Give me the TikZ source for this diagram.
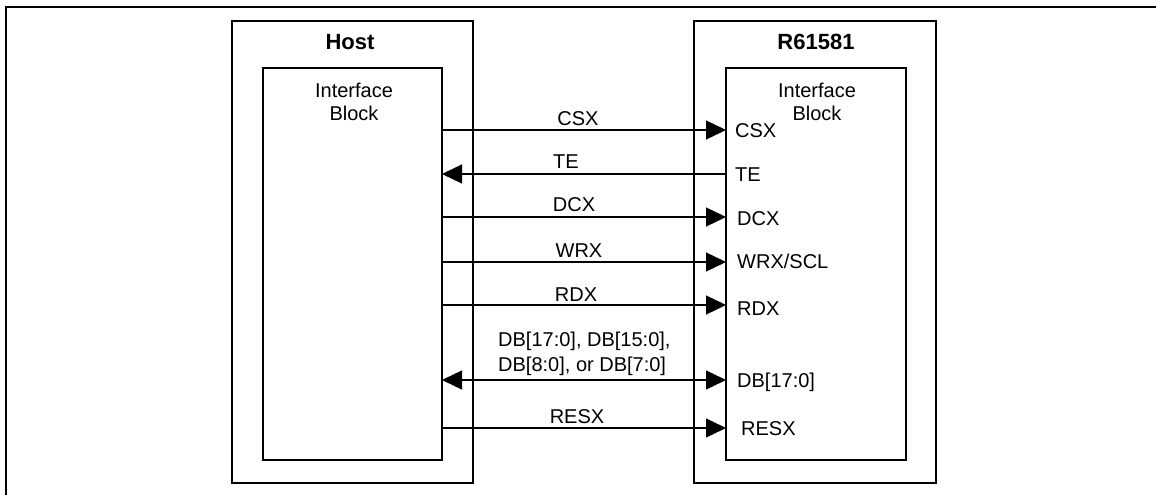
\documentclass[tikz,border=0pt]{standalone}
\usepackage{fontspec}
\setmainfont{Liberation Sans}
\usetikzlibrary{arrows.meta}
\begin{document}
\begin{tikzpicture}[x=1pt,y=-1pt,
  box/.style={draw=black, line width=1.4pt, inner sep=0pt, rectangle},
  sig/.style={line width=1.3pt, draw=black},
  tip/.style={-{Triangle[length=20pt,width=19pt]}},
  tiptwo/.style={{Triangle[length=20pt,width=19pt]}-{Triangle[length=20pt,width=19pt]}},
  lbl/.style={font=\fontsize{20}{23}\selectfont, inner sep=0pt, anchor=base},
  pinlbl/.style={font=\fontsize{20}{23}\selectfont, inner sep=0pt, anchor=base west},
  blocklbl/.style={font=\fontsize{20}{23}\selectfont, inner sep=0pt, anchor=north, align=center},
  titlelbl/.style={font=\fontsize{22}{26}\selectfont\bfseries, inner sep=0pt, anchor=base}]
\useasboundingbox (0,0) rectangle (1156,495);
% page frame
\draw[line width=2.3pt] (6,495) -- (6,7) -- (1156,7);
% boxes
\node[box, minimum width=241pt, minimum height=462pt] (hostout) at (352.5,252) {};
\node[box, minimum width=179pt, minimum height=392pt] (hostin) at (352.5,264) {};
\node[box, minimum width=242pt, minimum height=462pt] (rout) at (815,252) {};
\node[box, minimum width=180pt, minimum height=392pt] (rin) at (816,264) {};
% titles
\node[titlelbl] (thost) at (350,49) {Host};
\node[titlelbl] (tr) at (816,49) {R61581};
\node[blocklbl] (hib) at (354,83) {Interface\\Block};
\node[blocklbl] (rib) at (817,83) {Interface\\Block};
% ports
\coordinate (hcsx) at (442,130);  \coordinate (rcsx) at (726,130);
\coordinate (hte)  at (442,174);  \coordinate (rte)  at (726,174);
\coordinate (hdcx) at (442,217);  \coordinate (rdcx) at (726,217);
\coordinate (hwrx) at (442,262);  \coordinate (rwrx) at (726,262);
\coordinate (hrdx) at (442,305);  \coordinate (rrdx) at (726,305);
\coordinate (hdb)  at (442,380);  \coordinate (rdb)  at (726,380);
\coordinate (hres) at (442,428);  \coordinate (rres) at (726,428);
% connectors
\draw[sig,tip] (hcsx) -- (rcsx);
\draw[sig,tip] (rte) -- (hte);
\draw[sig,tip] (hdcx) -- (rdcx);
\draw[sig,tip] (hwrx) -- (rwrx);
\draw[sig,tip] (hrdx) -- (rrdx);
\draw[sig,tiptwo] (hdb) -- (rdb);
\draw[sig,tip] (hres) -- (rres);
% connector labels
\node[lbl] (lcsx) at (578,125) {CSX};
\node[lbl] (lte)  at (566,168) {TE};
\node[lbl] (ldcx) at (574,211) {DCX};
\node[lbl] (lwrx) at (579,257) {WRX};
\node[lbl] (lrdx) at (576,301) {RDX};
\node[font=\fontsize{20}{25}\selectfont, inner sep=0pt, anchor=north west, align=left] (ldb) at (498,332) {DB[17:0], DB[15:0],\\DB[8:0], or DB[7:0]};
\node[lbl] (lres) at (577,423) {RESX};
% pin labels
\node[pinlbl] (pcsx) at (735,137) {CSX};
\node[pinlbl] (pte)  at (735,181) {TE};
\node[pinlbl] (pdcx) at (737,225) {DCX};
\node[pinlbl] (pwrx) at (737,268) {WRX/SCL};
\node[pinlbl] (prdx) at (737,315) {RDX};
\node[pinlbl] (pdb)  at (737,387) {DB[17:0]};
\node[pinlbl] (pres) at (741,435) {RESX};
\end{tikzpicture}
\end{document}
